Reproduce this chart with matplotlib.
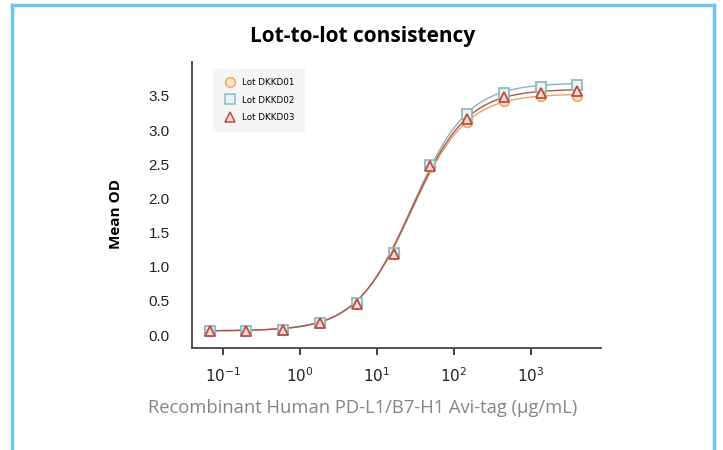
import numpy as np
import matplotlib
matplotlib.use('Agg')
import matplotlib.pyplot as plt
from matplotlib.lines import Line2D

# concentrations (ug/mL), 3-fold dilution series
conc = [0.0677, 0.203, 0.61, 1.83, 5.49, 16.5, 49.4, 148, 444, 1333, 4000]

# mean OD
lot1 = [0.06, 0.06, 0.07, 0.18, 0.46, 1.19, 2.46, 3.12, 3.42, 3.50, 3.50]
lot2 = [0.06, 0.06, 0.07, 0.18, 0.47, 1.20, 2.49, 3.23, 3.55, 3.63, 3.66]
lot3 = [0.06, 0.06, 0.07, 0.18, 0.46, 1.19, 2.47, 3.16, 3.48, 3.55, 3.57]
lot_names = ['Lot DKKD01', 'Lot DKKD02', 'Lot DKKD03']

# 4PL fit parameters (bottom, top, ec50, hill) estimated from the curves
fit1 = [0.06, 3.53, 27.5, 1.2]
fit2 = [0.06, 3.69, 28.5, 1.2]
fit3 = [0.06, 3.60, 28.0, 1.2]

xtick_vals = [0.1, 1, 10, 100, 1000]
xtick_labels = ['$10^{-1}$', '$10^{0}$', '$10^{1}$', '$10^{2}$', '$10^{3}$']
ytick_vals = [0.0, 0.5, 1.0, 1.5, 2.0, 2.5, 3.0, 3.5]


def four_pl(x, p):
    b, t, c, h = p
    return b + (t - b) / (1 + (c / x) ** h)


fig = plt.figure(figsize=(7.23, 4.5), dpi=100)
ax = fig.add_axes([0.2656, 0.2267, 0.565, 0.636])

styles = [
    dict(marker='o', line='#E9A467', edge='#EFA868', face='#FCE7C8'),
    dict(marker='s', line='#86B6BC', edge='#8DBAC2', face='#E8F3F3'),
    dict(marker='^', line='#B5524B', edge='#BE4A42', face='#F6DCD6'),
]

xs = np.logspace(np.log10(0.06), np.log10(4500), 300)
for vals, fit, st in zip([lot1, lot2, lot3], [fit1, fit2, fit3], styles):
    ax.plot(xs, four_pl(xs, fit), color=st['line'], lw=1.0, zorder=2)
    ax.plot(conc, vals, linestyle='none', marker=st['marker'], ms=7,
            mfc=st['face'], mec=st['edge'], mew=1.3, zorder=3)

ax.set_xscale('log')
ax.set_xlim(0.04, 8000)
ax.set_ylim(-0.19, 4.0)
ax.set_xticks(xtick_vals)
ax.set_xticklabels(xtick_labels)
ax.xaxis.set_minor_locator(matplotlib.ticker.NullLocator())
ax.set_yticks(ytick_vals)
ax.set_yticklabels(['%.1f' % v for v in ytick_vals])
ax.tick_params(axis='x', length=5, width=1.2, pad=8, labelsize=11, colors='#222222')
ax.tick_params(axis='y', length=0, pad=16, labelsize=11, colors='#222222')
for lab in ax.get_xticklabels() + ax.get_yticklabels():
    lab.set_family('Liberation Sans')

for s in ['top', 'right']:
    ax.spines[s].set_visible(False)
for s in ['left', 'bottom']:
    ax.spines[s].set_color('#444444')
    ax.spines[s].set_linewidth(1.3)

handles = [Line2D([], [], linestyle='none', marker=st['marker'], ms=7,
                  mfc=st['face'], mec=st['edge'], mew=1.1) for st in styles]
leg = ax.legend(handles, lot_names, loc='upper left', bbox_to_anchor=(0.04, 0.99),
                fontsize=6.3, frameon=True, fancybox=False, handletextpad=0.4,
                labelspacing=1.0, borderpad=1.0)
leg.get_frame().set_facecolor('#F3F3F3')
leg.get_frame().set_edgecolor('#F3F3F3')

fig.text(0.502, 0.918, 'Lot-to-lot consistency', ha='center', va='center',
         fontsize=15, fontweight='bold', family='Open Sans')
fig.text(0.160, 0.525, 'Mean OD', rotation=90, ha='center', va='center',
         fontsize=11, fontweight='bold', family='Open Sans')
fig.text(0.502, 0.094, 'Recombinant Human PD-L1/B7-H1 Avi-tag (\u00b5g/mL)',
         ha='center', va='center', fontsize=13.2, color='#858585', family='Open Sans')

# light blue frame around the panel
border = '#6EC6EC'
fig.add_artist(Line2D([0.0166, 0.0166], [0.0, 0.989], color=border, lw=2.5))
fig.add_artist(Line2D([0.9875, 0.9875], [0.0, 0.989], color=border, lw=2.5))
fig.add_artist(Line2D([0.0166, 0.9875], [0.989, 0.989], color=border, lw=2.5))

fig.savefig('out.png', dpi=100)
